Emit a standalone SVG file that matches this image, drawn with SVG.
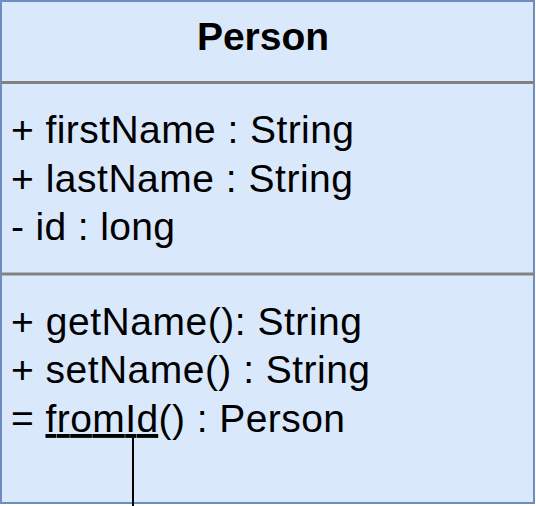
<svg xmlns="http://www.w3.org/2000/svg" width="536" height="506" viewBox="0 0 536 506">
<style>
.box{fill:#dae8fc;stroke:#6c8ebf;stroke-width:2}
.div{stroke:#828282;stroke-width:3}
.t{font-family:"Liberation Sans",Arial,Helvetica,sans-serif;font-size:39px;fill:#000}
.title{font-weight:bold;text-anchor:middle}
.conn{stroke:#000;stroke-width:2;fill:none}
</style>
<g id="Person">
<rect class="box" x="1" y="1" width="533" height="502"/>
<text class="t title" x="263" y="50">Person</text>
<line class="div" x1="1" y1="82.5" x2="534" y2="82.5"/>
<g id="attributes">
<text class="t" x="11" y="143" textLength="343" lengthAdjust="spacing">+ firstName : String</text>
<text class="t" x="11" y="192" textLength="342" lengthAdjust="spacing">+ lastName : String</text>
<text class="t" x="11" y="240" textLength="164" lengthAdjust="spacing">- id : long</text>
</g>
<line class="div" x1="1" y1="274" x2="534" y2="274"/>
<g id="operations">
<text class="t" x="11" y="335" textLength="351" lengthAdjust="spacing">+ getName(): String</text>
<text class="t" x="11" y="383" textLength="359" lengthAdjust="spacing">+ setName() : String</text>
<text class="t" x="11" y="432" textLength="334" lengthAdjust="spacing">= <tspan text-decoration="underline">fromId</tspan>() : Person</text>
</g>
</g>
<g id="connectors">
<line class="conn" x1="133" y1="438" x2="133" y2="506"/>
</g>
</svg>
